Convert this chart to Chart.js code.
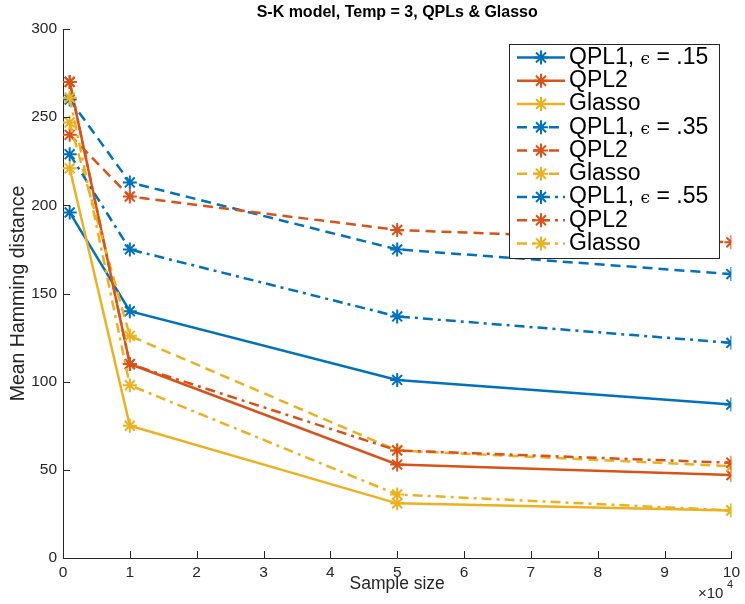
<!DOCTYPE html>
<html lang="en">
<head>
    <meta charset="UTF-8">
    <title>S-K model, Temp = 3, QPLs & Glasso</title>
    <script src="https://cdn.jsdelivr.net/npm/chart.js"></script>
    <style>
        body { margin: 0; background: #fff; }
        canvas { display: block; }
    </style>
</head>
<body>
    <canvas id="hammingChart" width="745" height="604"></canvas>
    <script>
        // Sample sizes on the x axis
        const sampleSizes = [1000, 10000, 50000, 100000];

        // Mean Hamming distance, one array per curve
        const qpl1Eps15 = [196, 140, 101, 87];
        const qpl2Eps15 = [270, 110, 53, 47];
        const glassoEps15 = [221, 75, 31, 27];
        const qpl1Eps35 = [260, 213, 175, 161];
        const qpl2Eps35 = [240, 205, 186, 179];
        const glassoEps35 = [247, 126, 61, 52];
        const qpl1Eps55 = [229, 175, 137, 122];
        const qpl2Eps55 = [270, 110, 61, 54];
        const glassoEps55 = [261, 98, 36, 27];

        const seriesLabels = ['QPL1, ϵ = .15', 'QPL2', 'Glasso',
                              'QPL1, ϵ = .35', 'QPL2', 'Glasso',
                              'QPL1, ϵ = .55', 'QPL2', 'Glasso'];
        const seriesValues = [qpl1Eps15, qpl2Eps15, glassoEps15,
                              qpl1Eps35, qpl2Eps35, glassoEps35,
                              qpl1Eps55, qpl2Eps55, glassoEps55];

        const xTickLabels = ['0', '1', '2', '3', '4', '5', '6', '7', '8', '9', '10'];

        // MATLAB default colours and line styles
        const colors = ['#0072BD', '#D95319', '#EDB120'];
        const dashes = [[], [10, 6], [10, 5, 3, 5]];

        const FONT = '"Liberation Sans", Arial, sans-serif';
        const INK = '#262626';

        function drawAsterisk(ctx, x, y, r) {
            ctx.beginPath();
            ctx.moveTo(x - r, y); ctx.lineTo(x + r, y);
            ctx.moveTo(x, y - r); ctx.lineTo(x, y + r);
            const d = r * Math.SQRT1_2;
            ctx.moveTo(x - d, y - d); ctx.lineTo(x + d, y + d);
            ctx.moveTo(x - d, y + d); ctx.lineTo(x + d, y - d);
            ctx.stroke();
        }

        // Title, axis labels, inward ticks and the boxed legend
        const matlabLook = {
            id: 'matlabLook',
            afterDraw(chart) {
                const ctx = chart.ctx;
                const area = chart.chartArea;
                const xs = chart.scales.x;
                const ys = chart.scales.y;
                ctx.save();

                // inward tick marks
                ctx.strokeStyle = INK;
                ctx.lineWidth = 1;
                ctx.setLineDash([]);
                ctx.beginPath();
                xs.ticks.forEach((t, i) => {
                    const px = Math.round(xs.getPixelForTick(i)) + 0.5;
                    ctx.moveTo(px, area.bottom);
                    ctx.lineTo(px, area.bottom - 7);
                });
                ys.ticks.forEach((t, i) => {
                    const py = Math.round(ys.getPixelForTick(i)) + 0.5;
                    ctx.moveTo(area.left, py);
                    ctx.lineTo(area.left + 7, py);
                });
                ctx.stroke();

                // title
                const cx = (area.left + area.right) / 2;
                ctx.fillStyle = '#000';
                ctx.textAlign = 'center';
                ctx.textBaseline = 'middle';
                ctx.font = 'bold 16px ' + FONT;
                ctx.fillText('S-K model, Temp = 3, QPLs & Glasso', cx, 13);

                // axis labels
                ctx.fillStyle = INK;
                ctx.font = '17.5px ' + FONT;
                ctx.fillText('Sample size', cx, 584);
                ctx.save();
                ctx.translate(19, (area.top + area.bottom) / 2);
                ctx.rotate(-Math.PI / 2);
                ctx.font = '19.5px ' + FONT;
                ctx.fillText('Mean Hamming distance', 0, 0);
                ctx.restore();

                // x10^4 exponent
                ctx.textAlign = 'left';
                ctx.font = '15px ' + FONT;
                ctx.fillText('×10', 698, 594);
                ctx.font = '11px ' + FONT;
                ctx.fillText('4', 727, 585);

                // legend
                const box = { x: 509.5, y: 44.5, w: 210, h: 214 };
                ctx.fillStyle = '#fff';
                ctx.fillRect(box.x, box.y, box.w, box.h);
                ctx.strokeStyle = INK;
                ctx.lineWidth = 1;
                ctx.strokeRect(box.x, box.y, box.w, box.h);

                chart.data.datasets.forEach((ds, i) => {
                    const y = 57.5 + i * 23.25;
                    ctx.strokeStyle = ds.borderColor;
                    ctx.lineWidth = 2.5;
                    ctx.setLineDash(ds.borderDash);
                    ctx.beginPath();
                    ctx.moveTo(517, y);
                    ctx.lineTo(565, y);
                    ctx.stroke();
                    ctx.setLineDash([]);
                    ctx.lineWidth = 2;
                    drawAsterisk(ctx, 541, y, 7);

                    ctx.fillStyle = '#000';
                    ctx.textAlign = 'left';
                    ctx.textBaseline = 'middle';
                    const parts = ds.label.split('ϵ');
                    let tx = 569;
                    ctx.font = '23px ' + FONT;
                    ctx.fillText(parts[0], tx, y);
                    if (parts.length > 1) {
                        tx += ctx.measureText(parts[0]).width;
                        ctx.font = '17px "DejaVu Serif", serif';
                        ctx.fillText('ϵ', tx, y + 2);
                        tx += ctx.measureText('ϵ').width;
                        ctx.font = '23px ' + FONT;
                        ctx.fillText(parts[1], tx, y);
                    }
                });
                ctx.restore();
            }
        };

        function renderChart() {
            const datasets = seriesValues.map((values, i) => ({
                label: seriesLabels[i],
                data: values.map((v, j) => ({ x: sampleSizes[j], y: v })),
                borderColor: colors[i % 3],
                backgroundColor: colors[i % 3],
                borderWidth: 2.5,
                borderDash: dashes[Math.floor(i / 3)],
                pointStyle: 'star',
                pointRadius: 7,
                pointBorderWidth: 2,
                pointBorderColor: colors[i % 3],
                fill: false,
                tension: 0,
                order: 9 - i
            }));

            const ctx = document.getElementById('hammingChart').getContext('2d');
            new Chart(ctx, {
                type: 'line',
                data: { datasets: datasets },
                plugins: [matlabLook],
                options: {
                    responsive: false,
                    animation: false,
                    layout: { padding: { top: 29, right: 9, left: 0, bottom: 0 } },
                    plugins: {
                        legend: { display: false },
                        title: { display: false },
                        tooltip: { enabled: false }
                    },
                    scales: {
                        x: {
                            type: 'linear',
                            min: 0,
                            max: 100000,
                            afterFit: scale => { scale.height = 46; },
                            grid: { display: false, drawTicks: false },
                            border: { color: INK, width: 1 },
                            ticks: {
                                stepSize: 10000,
                                padding: 5,
                                color: INK,
                                font: { family: FONT, size: 15.5 },
                                maxRotation: 0,
                                callback: (v, i) => xTickLabels[i]
                            }
                        },
                        y: {
                            min: 0,
                            max: 300,
                            afterFit: scale => { scale.width = 63; },
                            grid: { display: false, drawTicks: false },
                            border: { color: INK, width: 1 },
                            ticks: {
                                stepSize: 50,
                                padding: 6,
                                color: INK,
                                font: { family: FONT, size: 15.5 }
                            }
                        }
                    }
                }
            });
        }

        window.onload = function() {
            renderChart();
        };
    </script>
</body>
</html>
